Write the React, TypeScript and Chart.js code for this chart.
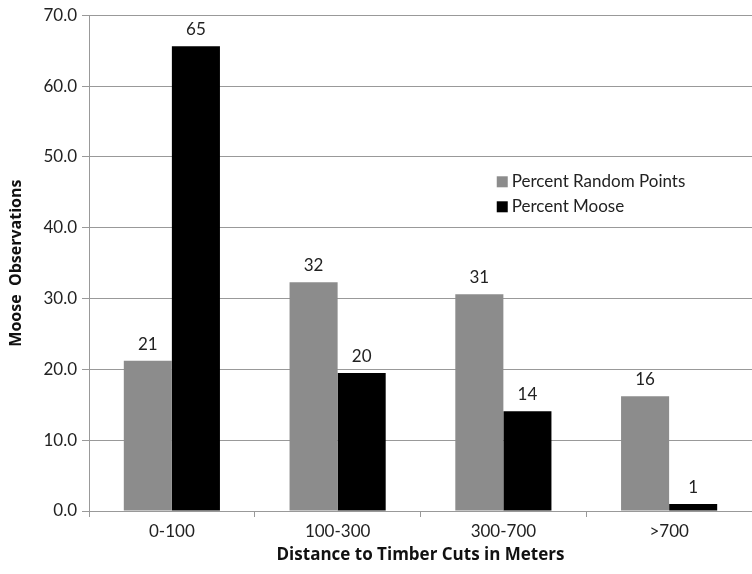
import React, { useEffect, useRef } from "react";
import { Chart, registerables } from "chart.js";

Chart.register(...registerables);

const categories = ["0-100", "100-300", "300-700", ">700"];
const randomPoints = [21.2, 32.3, 30.6, 16.2];
const moose = [65.6, 19.5, 14.1, 1.0];
const randomLabels = ["21", "32", "31", "16"];
const mooseLabels = ["65", "20", "14", "1"];
const seriesNames = ["Percent Random Points", "Percent Moose"];
const yTicks = [0, 10, 20, 30, 40, 50, 60, 70];

const FONT = "Lato, 'Open Sans', sans-serif";
const TITLE_FONT = "'Open Sans', 'Liberation Sans', sans-serif";

const valueLabelPlugin = {
  id: "valueLabels",
  afterDatasetsDraw(chart: any) {
    const ctx = chart.ctx;
    const labelSets = [randomLabels, mooseLabels];
    ctx.save();
    ctx.font = `17px ${FONT}`;
    ctx.fillStyle = "#222";
    ctx.textAlign = "center";
    ctx.textBaseline = "bottom";
    chart.data.datasets.forEach((_: any, di: number) => {
      const meta = chart.getDatasetMeta(di);
      meta.data.forEach((bar: any, i: number) => {
        ctx.fillText(labelSets[di][i], bar.x, bar.y - 8);
      });
    });
    ctx.restore();
  },
};

const legendPlugin = {
  id: "innerLegend",
  afterDraw(chart: any) {
    const ctx = chart.ctx;
    const area = chart.chartArea;
    const x = area.left + (area.right - area.left) * 0.615;
    const y0 = area.top + (area.bottom - area.top) * 0.335;
    ctx.save();
    ctx.font = `17px ${FONT}`;
    ctx.textBaseline = "middle";
    chart.data.datasets.forEach((ds: any, i: number) => {
      const y = y0 + i * 25;
      ctx.fillStyle = ds.backgroundColor;
      ctx.fillRect(x, y - 5, 11, 11);
      ctx.fillStyle = "#222";
      ctx.fillText(ds.label, x + 15, y);
    });
    ctx.restore();
  },
};

export default function App() {
  const ref = useRef<HTMLCanvasElement | null>(null);

  useEffect(() => {
    document.body.style.margin = "0";
    if (!ref.current) return;
    const chart = new Chart(ref.current, {
      type: "bar",
      data: {
        labels: categories,
        datasets: [
          { label: seriesNames[0], data: randomPoints, backgroundColor: "#8c8c8c" },
          { label: seriesNames[1], data: moose, backgroundColor: "#000000" },
        ],
      },
      options: {
        animation: false,
        responsive: false,
        layout: { padding: { top: 15, right: 0, left: 0, bottom: 9 } },
        plugins: {
          legend: { display: false },
          tooltip: { enabled: false },
        },
        datasets: {
          bar: { categoryPercentage: 0.58, barPercentage: 1.0 },
        },
        scales: {
          x: {
            afterFit: (axis: any) => {
              axis.height = 54;
            },
            grid: {
              offset: true,
              drawOnChartArea: false,
              drawTicks: true,
              tickLength: 6,
              color: "#999",
            },
            border: { color: "#999" },
            ticks: { font: { size: 17, family: FONT }, color: "#222", padding: 4 },
            title: {
              display: true,
              text: "Distance to Timber Cuts in Meters",
              font: { size: 17, weight: "bold", family: TITLE_FONT },
              color: "#111",
              padding: { top: 0, bottom: 0 },
            },
          },
          y: {
            min: 0,
            max: 70,
            afterFit: (axis: any) => {
              axis.width = 89;
            },
            afterBuildTicks: (axis: any) => {
              axis.ticks = yTicks.map((v) => ({ value: v }));
            },
            grid: { color: "#999", tickLength: 7 },
            border: { color: "#999" },
            ticks: {
              font: { size: 17, family: FONT },
              color: "#222",
              padding: 5,
              callback: (v: any) => Number(v).toFixed(1),
            },
            title: {
              display: true,
              text: "Moose  Observations",
              font: { size: 16, weight: "bold", family: TITLE_FONT },
              color: "#111",
              padding: { top: 7, bottom: 0 },
            },
          },
        },
      },
      plugins: [valueLabelPlugin, legendPlugin],
    });
    return () => chart.destroy();
  }, []);

  return (
    <div style={{ width: 752, height: 574 }}>
      <canvas ref={ref} width={752} height={574} style={{ display: "block" }} />
    </div>
  );
}
